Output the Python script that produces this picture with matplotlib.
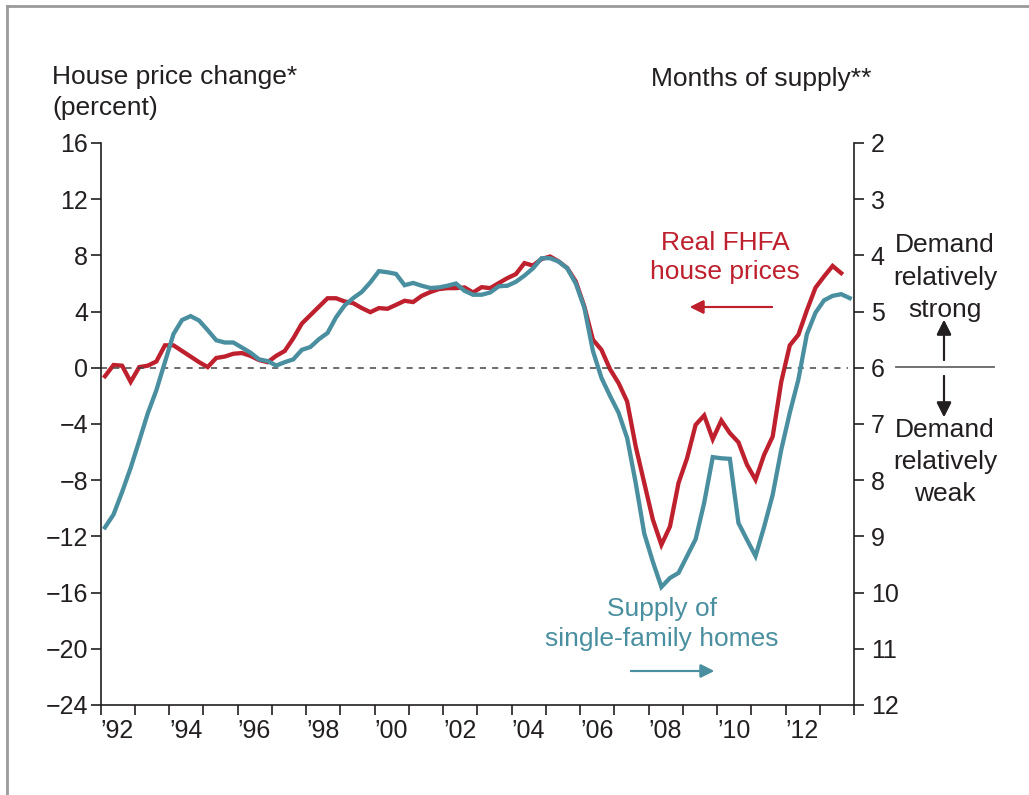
import matplotlib
matplotlib.use('Agg')
import matplotlib.pyplot as plt
from matplotlib.lines import Line2D
import numpy as np

plt.rcParams['font.family'] = ['Liberation Sans', 'DejaVu Sans']

# 季度数据, 1992Q1 开始
red_pct = [-0.6, 0.2, 0.15, -1.0, 0.05, 0.15, 0.45, 1.6, 1.6, 1.2,
           0.8, 0.4, 0.05, 0.7, 0.8, 1.0, 1.05, 0.85, 0.55, 0.4,
           0.85, 1.2, 2.1, 3.15, 3.75, 4.35, 4.95, 4.95, 4.72, 4.6,
           4.25, 3.96, 4.25, 4.2, 4.48, 4.77, 4.68, 5.12, 5.39, 5.6,
           5.67, 5.67, 5.72, 5.36, 5.74, 5.67, 6.03, 6.38, 6.67, 7.45,
           7.28, 7.74, 7.92, 7.57, 7.1, 6.14, 4.36, 2.0, 1.28, -0.1,
           -1.09, -2.4, -5.6, -8.2, -10.8, -12.6, -11.3, -8.2, -6.43, -4.06,
           -3.39, -5.08, -3.75, -4.65, -5.3, -6.9, -7.97, -6.19, -4.89, -1.0,
           1.6, 2.35, 4.1, 5.7, 6.5, 7.25, 6.74]

supply_months = [8.84, 8.61, 8.21, 7.78, 7.3, 6.81, 6.4, 5.9, 5.4, 5.15,
                 5.08, 5.16, 5.33, 5.51, 5.55, 5.55, 5.64, 5.73, 5.85, 5.88,
                 5.96, 5.9, 5.85, 5.68, 5.63, 5.49, 5.38, 5.1, 4.89, 4.76,
                 4.65, 4.48, 4.28, 4.3, 4.33, 4.53, 4.49, 4.54, 4.58, 4.57,
                 4.54, 4.5, 4.63, 4.7, 4.7, 4.66, 4.55, 4.54, 4.47, 4.36,
                 4.23, 4.05, 4.05, 4.11, 4.23, 4.5, 4.93, 5.7, 6.18, 6.5,
                 6.8, 7.25, 8.05, 8.95, 9.45, 9.9, 9.74, 9.65, 9.35, 9.05,
                 8.4, 7.59, 7.61, 7.62, 8.76, 9.06, 9.35, 8.83, 8.26, 7.46,
                 6.8, 6.21, 5.4, 5.02, 4.8, 4.72, 4.69, 4.76]

years = list(range(1992, 2015))
year_labels = ["\u2019%02d" % (y % 100) if y % 2 == 0 and y < 2014 else "" for y in years]
left_ticks = [16, 12, 8, 4, 0, -4, -8, -12, -16, -20, -24]
right_ticks = list(range(2, 13))

t_red = 1992.125 + 0.25 * np.arange(len(red_pct))
t_sup = 1992.125 + 0.25 * np.arange(len(supply_months))

RED = '#bf202e'
BLUE = '#4a8fa0'
INK = '#231f20'

W, H = 1029, 795


def fx(x):
    return x / W


def fy(y):
    return 1 - y / H


def arrow(x0, y0, x1, y1, color, ms=18):
    fig.add_artist(plt.annotate('', xy=(fx(x1), fy(y1)), xytext=(fx(x0), fy(y0)),
                                xycoords='figure fraction',
                                arrowprops=dict(arrowstyle='-|>', color=color, lw=1.5,
                                                mutation_scale=ms, shrinkA=0, shrinkB=0)))


fig = plt.figure(figsize=(10.29, 7.95), dpi=100)
ax = fig.add_axes([fx(100.7), fy(705), (854 - 100.7) / W, (705 - 143) / H])
ax2 = ax.twinx()

ax.plot(t_red, red_pct, color=RED, lw=3.1, solid_joinstyle='miter')
ax2.plot(t_sup, supply_months, color=BLUE, lw=3.1, solid_joinstyle='miter')
ax.axhline(0, xmax=0.992, color='#444444', lw=1.1, ls=(0, (4, 4)))

ax.set_xlim(1992, 2014)
ax.set_ylim(-24, 16)
ax2.set_ylim(12, 2)

for s in ['top', 'right']:
    ax.spines[s].set_visible(False)
for s in ['top', 'left', 'bottom']:
    ax2.spines[s].set_visible(False)
for a in (ax, ax2):
    for s in a.spines.values():
        s.set_color(INK)
        s.set_linewidth(1.2)

ax.set_xticks(years)
ax.set_xticklabels(year_labels, ha='left')
ax.set_yticks(left_ticks)
ax.set_yticklabels([("\u2212%d" % -v) if v < 0 else str(v) for v in left_ticks])
ax2.set_yticks(right_ticks)

ax.tick_params(axis='x', direction='out', length=7, width=1.2, color=INK,
               labelsize=18, labelcolor=INK, pad=3)
ax.tick_params(axis='y', direction='out', length=7, width=1.2, color=INK,
               labelsize=18, labelcolor=INK, pad=2)
ax2.tick_params(axis='y', direction='out', length=7, width=1.2, color=INK,
                labelsize=18, labelcolor=INK, pad=5)

# 轴标题
fig.text(fx(52), fy(84), 'House price change*', fontsize=19, color=INK, va='baseline')
fig.text(fx(52), fy(115), '(percent)', fontsize=19, color=INK, va='baseline')
fig.text(fx(651), fy(86), 'Months of supply**', fontsize=19, color=INK, va='baseline')

# 右侧说明
for txt, y in [('Demand', 252), ('relatively', 285), ('strong', 317),
               ('Demand', 437), ('relatively', 469), ('weak', 501)]:
    fig.text(fx(945), fy(y), txt, fontsize=19, color=INK, ha='center', va='baseline')
fig.add_artist(Line2D([fx(896), fx(994)], [fy(367), fy(367)], color='#666666', lw=1.3))
arrow(944, 360, 944, 320, INK, ms=22)
arrow(944, 376, 944, 417, INK, ms=22)

# 系列标签
fig.text(fx(725), fy(250), 'Real FHFA', fontsize=19, color=RED, ha='center', va='baseline')
fig.text(fx(725), fy(279), 'house prices', fontsize=19, color=RED, ha='center', va='baseline')
arrow(772, 307, 690, 307, RED, ms=20)
fig.text(fx(662), fy(616), 'Supply of', fontsize=19, color=BLUE, ha='center', va='baseline')
fig.text(fx(662), fy(646), 'single-family homes', fontsize=19, color=BLUE, ha='center', va='baseline')
arrow(631, 671, 714, 671, BLUE, ms=20)

# 外框
fig.add_artist(Line2D([fx(7), 1], [fy(6), fy(6)], color='#9a9a9a', lw=2))
fig.add_artist(Line2D([fx(7), fx(7)], [0, fy(6)], color='#9a9a9a', lw=2))

fig.savefig('out.png', dpi=100)
